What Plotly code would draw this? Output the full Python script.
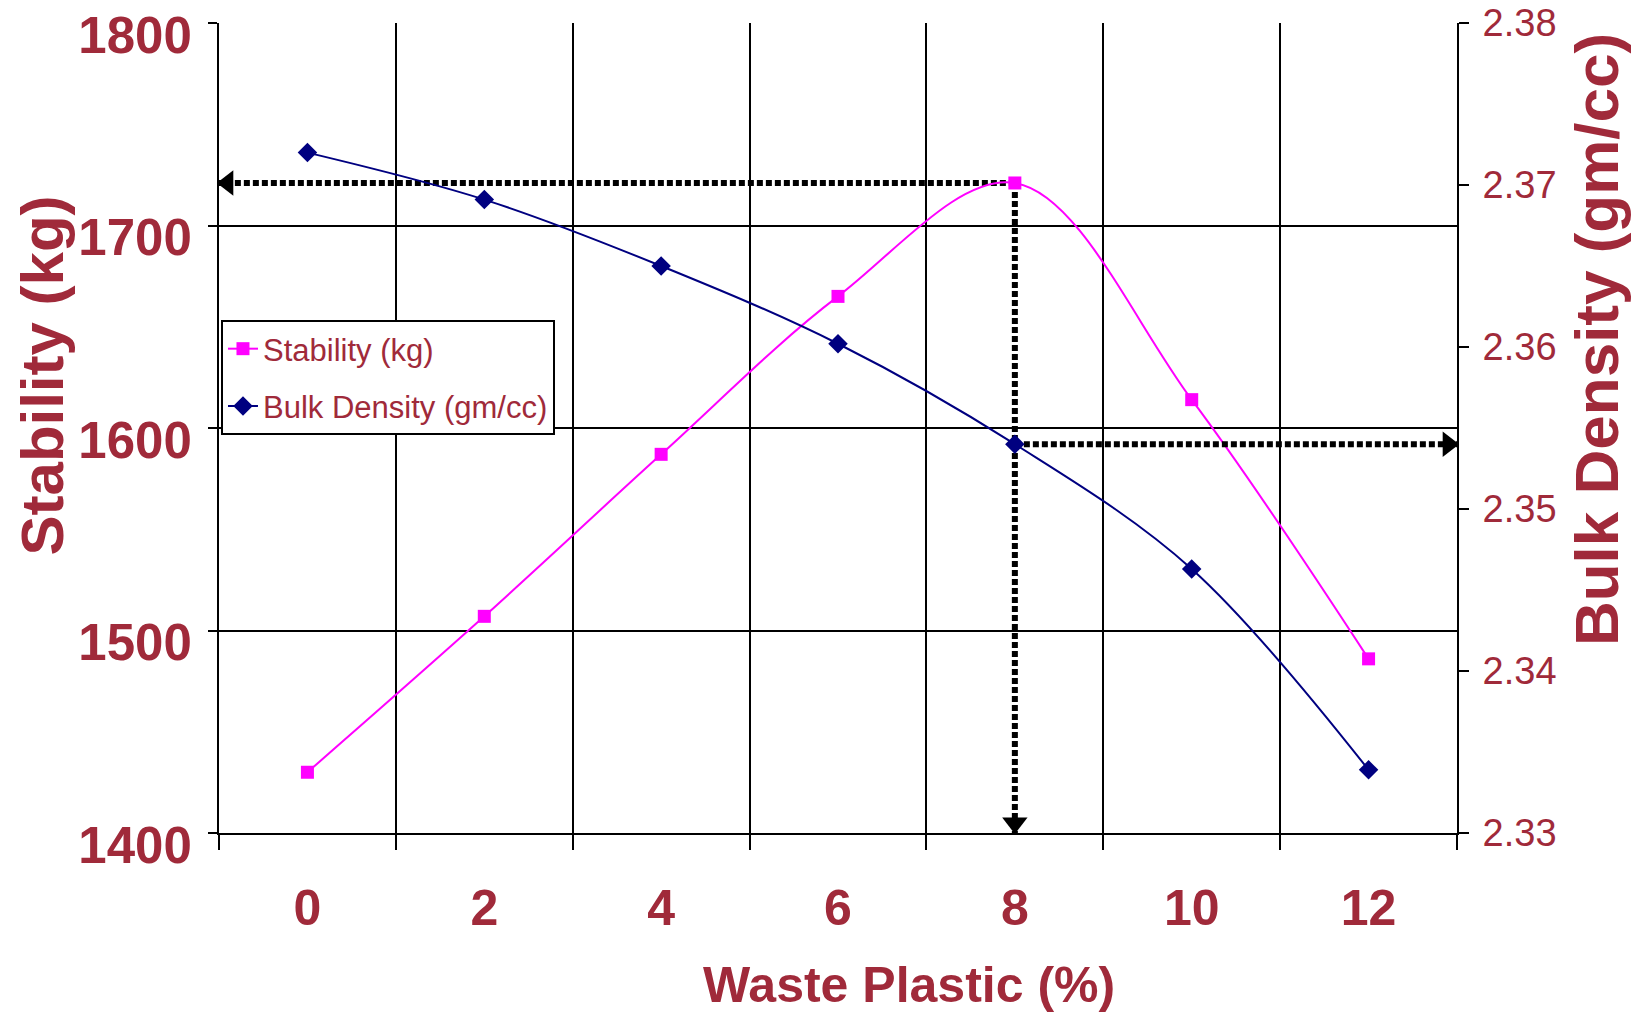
import plotly.graph_objects as go

# ---------------- data ----------------
waste_plastic = [0, 2, 4, 6, 8, 10, 12]
stability = [1430, 1507, 1587, 1665, 1721, 1614, 1486]
bulk_density = [2.3720, 2.3691, 2.3650, 2.3602, 2.3540, 2.3463, 2.3339]
x_tick_labels = ["0", "2", "4", "6", "8", "10", "12"]
left_ticks = [1400, 1500, 1600, 1700, 1800]
right_ticks = [2.33, 2.34, 2.35, 2.36, 2.37, 2.38]

RED = "#A02A3A"
SANS = "Liberation Sans, Arial, sans-serif"

x_range = [waste_plastic[0] - 1, waste_plastic[-1] + 1]
y_range = [left_ticks[0], left_ticks[-1]]
y2_range = [right_ticks[0], right_ticks[-1]]

# optimum (max stability) guide lines
i_opt = stability.index(max(stability))
x_opt = waste_plastic[i_opt]
s_opt = stability[i_opt]
d_opt = bulk_density[i_opt]

fig = go.Figure()

guide = dict(color="black", width=6, dash="6px,3px")
# horizontal to left axis
fig.add_trace(go.Scatter(x=[x_opt, x_range[0]], y=[s_opt, s_opt], mode="lines",
                         line=guide, showlegend=False, hoverinfo="skip", cliponaxis=False))
# vertical to x axis
fig.add_trace(go.Scatter(x=[x_opt, x_opt], y=[s_opt, y_range[0]], mode="lines",
                         line=guide, showlegend=False, hoverinfo="skip", cliponaxis=False))
# horizontal to right axis (bulk density)
fig.add_trace(go.Scatter(x=[x_opt, x_range[1]], y=[d_opt, d_opt], mode="lines", yaxis="y2",
                         line=guide, showlegend=False, hoverinfo="skip", cliponaxis=False))

# arrow heads
fig.add_trace(go.Scatter(x=[x_range[0] + 0.1], y=[s_opt], mode="markers",
                         marker=dict(symbol="triangle-left", size=22, color="black"),
                         showlegend=False, hoverinfo="skip", cliponaxis=False))
fig.add_trace(go.Scatter(x=[x_opt], y=[y_range[0] + 5], mode="markers",
                         marker=dict(symbol="triangle-down", size=22, color="black"),
                         showlegend=False, hoverinfo="skip", cliponaxis=False))
fig.add_trace(go.Scatter(x=[x_range[1] - 0.1], y=[d_opt], mode="markers", yaxis="y2",
                         marker=dict(symbol="triangle-right", size=22, color="black"),
                         showlegend=False, hoverinfo="skip", cliponaxis=False))

# data series
fig.add_trace(go.Scatter(
    x=waste_plastic, y=stability, name="Stability (kg)", mode="lines+markers",
    legendgroup="s",
    line=dict(color="#FF00FF", width=2, shape="spline", smoothing=1),
    marker=dict(symbol="square", size=13, color="#FF00FF"),
    cliponaxis=False,
))
fig.add_trace(go.Scatter(
    x=waste_plastic, y=bulk_density, name="Bulk Density (gm/cc)", mode="lines+markers",
    yaxis="y2", legendgroup="d",
    line=dict(color="#000080", width=2, shape="spline", smoothing=1),
    marker=dict(symbol="diamond", size=15, color="#000080"),
    cliponaxis=False,
))

fig.update_layout(
    width=1631, height=1018,
    margin=dict(l=219, r=174, t=23, b=185, autoexpand=False),
    paper_bgcolor="white", plot_bgcolor="white",
    showlegend=True,
    legend=dict(
        x=0.0016, y=0.6333, xanchor="left", yanchor="top",
        bgcolor="white", bordercolor="black", borderwidth=2,
        font=dict(family=SANS, size=31, color=RED),
        traceorder="grouped", tracegroupgap=14,
    ),
    xaxis=dict(
        range=x_range, tickmode="array", tickvals=waste_plastic, ticktext=x_tick_labels,
        ticks="", showgrid=False, zeroline=False, automargin=False,
        showline=True, linecolor="black", linewidth=2,
        tickfont=dict(family=SANS, size=50, color=RED, weight="bold"),
        ticklabelstandoff=30,
        minor=dict(tick0=x_range[0], dtick=2, ticks="outside", ticklen=15, tickwidth=2,
                   tickcolor="black", showgrid=True, gridcolor="black", gridwidth=2),
    ),
    yaxis=dict(
        range=y_range, tickmode="array", tickvals=left_ticks, automargin=False,
        ticks="outside", ticklen=9, tickwidth=2, tickcolor="black",
        showgrid=True, gridcolor="black", gridwidth=2, zeroline=False,
        showline=True, linecolor="black", linewidth=2,
        tickfont=dict(family=SANS, size=51, color=RED, weight="bold"),
        ticklabelshift=12, ticklabelstandoff=6, ticklabeloverflow="allow",
    ),
    yaxis2=dict(
        range=y2_range, overlaying="y", side="right", tickmode="array", tickvals=right_ticks,
        tickformat=".2f", ticks="outside", ticklen=10, tickwidth=2, tickcolor="black",
        showgrid=False, zeroline=False, automargin=False,
        showline=True, linecolor="black", linewidth=2,
        tickfont=dict(family=SANS, size=38, color=RED),
        ticklabelstandoff=6, ticklabeloverflow="allow",
    ),
    annotations=[
        dict(text="Waste Plastic (%)", xref="paper", yref="paper", x=0.557, y=-0.1877,
             xanchor="center", yanchor="middle", showarrow=False,
             font=dict(family=SANS, size=50, color=RED, weight="bold")),
        dict(text="Stability (kg)", xref="paper", yref="paper", x=-0.1426, y=0.5654,
             xanchor="center", yanchor="middle", showarrow=False, textangle=-90,
             font=dict(family=SANS, size=60, color=RED, weight="bold")),
        dict(text="Bulk Density (gm/cc)", xref="paper", yref="paper", x=1.1123, y=0.6086,
             xanchor="center", yanchor="middle", showarrow=False, textangle=-90,
             font=dict(family=SANS, size=62, color=RED, weight="bold")),
    ],
)

fig.write_html("out.html", config={"displayModeBar": False},
               post_script="document.body.style.margin='0';document.body.style.overflow='hidden';")
